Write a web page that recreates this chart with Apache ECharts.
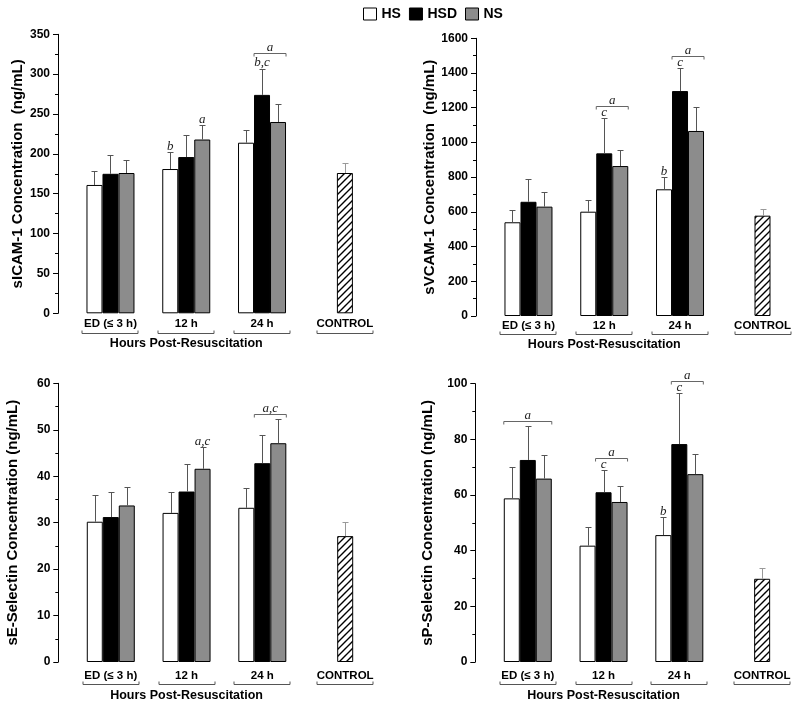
<!DOCTYPE html>
<html><head><meta charset="utf-8">
<script src="https://cdn.jsdelivr.net/npm/echarts@6/dist/echarts.min.js"></script>
<style>html,body{margin:0;padding:0;background:#fff}#c{width:800px;height:708px}</style>
</head><body><div id="c"></div>
<script>
// ---------- DATA ----------
const groups = ['ED (≤ 3 h)', '12 h', '24 h'];
const controlCat = ['CONTROL'];
const seriesNames = ['HS', 'HSD', 'NS'];
const xTitle = 'Hours Post-Resuscitation';
const yTitles = ['sICAM-1 Concentration  (ng/mL)', 'sVCAM-1 Concentration  (ng/mL)',
                 'sE-Selectin Concentration (ng/mL)', 'sP-Selectin Concentration (ng/mL)'];
const yMax = [350, 1600, 60, 100];
const yStep = [50, 200, 10, 20];

// sICAM-1
const icamHS = [161, 181, 214], icamHSD = [175, 196, 274], icamNS = [176, 218, 240];
const icamErrHS = [17, 21, 16], icamErrHSD = [23, 28, 33], icamErrNS = [16, 18, 22];
const icamCtrl = [176], icamCtrlErr = [12];
const icamLetters = [[1, 0, 'b'], [1, 2, 'a'], [2, 1, 'b,c']];
const icamBrackets = [[2, 1, 2, 'a']];

// sVCAM-1
const vcamHS = [540, 601, 730], vcamHSD = [658, 937, 1296], vcamNS = [630, 864, 1066];
const vcamErrHS = [72, 67, 72], vcamErrHSD = [129, 205, 134], vcamErrNS = [86, 94, 138];
const vcamCtrl = [578], vcamCtrlErr = [37];
const vcamLetters = [[1, 1, 'c'], [2, 0, 'b'], [2, 1, 'c']];
const vcamBrackets = [[1, 1, 2, 'a'], [2, 1, 2, 'a']];

// sE-Selectin
const eselHS = [30.2, 32.1, 33.2], eselHSD = [31.2, 36.7, 42.8], eselNS = [33.7, 41.6, 47.1];
const eselErrHS = [5.7, 4.4, 4.2], eselErrHSD = [5.5, 6.0, 6.0], eselErrNS = [4.0, 4.6, 5.3];
const eselCtrl = [27.1], eselCtrlErr = [3.1];
const eselLetters = [[1, 2, 'a,c']];
const eselBrackets = [[2, 1, 2, 'a,c']];

// sP-Selectin
const pselHS = [58.8, 41.8, 45.6], pselHSD = [72.6, 61.0, 78.3], pselNS = [65.9, 57.5, 67.5];
const pselErrHS = [11.2, 6.6, 6.6], pselErrHSD = [12.3, 8.0, 18.2], pselErrNS = [8.6, 5.8, 7.3];
const pselCtrl = [29.9], pselCtrlErr = [3.8];
const pselLetters = [[1, 1, 'c'], [2, 0, 'b'], [2, 1, 'c']];
const pselBrackets = [[0, 0, 2, 'a'], [1, 1, 2, 'a'], [2, 1, 2, 'a']];

const panelMeans = [[icamHS, icamHSD, icamNS], [vcamHS, vcamHSD, vcamNS], [eselHS, eselHSD, eselNS], [pselHS, pselHSD, pselNS]];
const panelErrs = [[icamErrHS, icamErrHSD, icamErrNS], [vcamErrHS, vcamErrHSD, vcamErrNS], [eselErrHS, eselErrHSD, eselErrNS], [pselErrHS, pselErrHSD, pselErrNS]];
const panelCtrl = [icamCtrl, vcamCtrl, eselCtrl, pselCtrl];
const panelCtrlErr = [icamCtrlErr, vcamCtrlErr, eselCtrlErr, pselCtrlErr];
const panelLetters = [icamLetters, vcamLetters, eselLetters, pselLetters];
const panelBrackets = [icamBrackets, vcamBrackets, eselBrackets, pselBrackets];

// ---------- STYLE / LAYOUT ----------
const SANS = 'Liberation Sans, Arial, sans-serif';
const SERIF = 'Liberation Serif, Times New Roman, serif';
const BAR_W = 16;
const fills = ['#ffffff', '#000000', '#8c8c8c'];
const layout = [
  {ax: 58,    top: 34.3,  bottom: 313.3, lblMargin: 5, xNameGap: 24,   brGap: 20,   yNameGap: 32.5},
  {ax: 476,   top: 38.3,  bottom: 316,   lblMargin: 4, xNameGap: 22,   brGap: 17.5, yNameGap: 37.5},
  {ax: 58.3,  top: 383.3, bottom: 662,   lblMargin: 8, xNameGap: 27,   brGap: 22,   yNameGap: 37.5},
  {ax: 475.3, top: 383.7, bottom: 662,   lblMargin: 8, xNameGap: 27,   brGap: 22,   yNameGap: 39.8}
];

function hatch() {
  const cv = document.createElement('canvas');
  const n = 7; cv.width = n; cv.height = n;
  const g = cv.getContext('2d');
  g.fillStyle = '#fff'; g.fillRect(0, 0, n, n);
  g.strokeStyle = '#000'; g.lineWidth = 1.4;
  g.beginPath();
  g.moveTo(-1, n + 1); g.lineTo(n + 1, -1);
  g.moveTo(-1, 1); g.lineTo(1, -1);
  g.moveTo(n - 1, n + 1); g.lineTo(n + 1, n - 1);
  g.stroke();
  return cv;
}
const hatchImg = hatch();

const grids = [], xAxes = [], yAxes = [], series = [];
layout.forEach((L, p) => {
  const gMain = p * 2, gCtrl = p * 2 + 1;
  grids.push({left: L.ax + 14.6, width: 227.3, top: L.top, height: L.bottom - L.top});
  grids.push({left: L.ax + 249, width: 75.8, top: L.top, height: L.bottom - L.top});
  const xl = {fontFamily: SANS, fontWeight: 'bold', fontSize: 11.5, color: '#000', margin: L.lblMargin};
  xAxes.push({type: 'category', gridIndex: gMain, data: groups, axisLine: {show: false}, axisTick: {show: false},
    axisLabel: xl, name: xTitle, nameLocation: 'middle', nameGap: L.xNameGap,
    nameTextStyle: {fontFamily: SANS, fontWeight: 'bold', fontSize: 12.5, color: '#000', verticalAlign: 'top'}});
  xAxes.push({type: 'category', gridIndex: gCtrl, data: controlCat, axisLine: {show: false}, axisTick: {show: false}, axisLabel: xl});
  yAxes.push({type: 'value', gridIndex: gMain, min: 0, max: yMax[p], interval: yStep[p], offset: 14.6,
    axisLine: {show: true, lineStyle: {color: '#000', width: 1}},
    axisTick: {show: true, length: 5, lineStyle: {color: '#000'}},
    minorTick: {show: true, splitNumber: 2, length: 3, lineStyle: {color: '#000'}},
    splitLine: {show: false},
    axisLabel: {fontFamily: SANS, fontWeight: 'bold', fontSize: 12, color: '#000', margin: 8, formatter: v => String(v)},
    name: yTitles[p], nameLocation: 'middle', nameGap: L.yNameGap, nameRotate: 90,
    nameTextStyle: {fontFamily: SANS, fontWeight: 'bold', fontSize: 15, color: '#000'}});
  yAxes.push({type: 'value', gridIndex: gCtrl, min: 0, max: yMax[p], show: false, splitLine: {show: false}});

  const xMain = gMain, yMain = gMain, xC = gCtrl, yC = gCtrl;
  const means = panelMeans[p], errs = panelErrs[p];
  seriesNames.forEach((nm, s) => {
    series.push({type: 'bar', name: nm, xAxisIndex: xMain, yAxisIndex: yMain, data: means[s],
      barWidth: BAR_W, barGap: '0%', itemStyle: {color: fills[s], borderColor: '#000', borderWidth: 1}, silent: true});
  });
  series.push({type: 'bar', name: 'CONTROL', xAxisIndex: xC, yAxisIndex: yC, data: panelCtrl[p], barWidth: BAR_W,
    itemStyle: {color: {image: hatchImg, repeat: 'repeat'}, borderColor: '#000', borderWidth: 1}, silent: true});

  // error bars
  const ebData = [];
  for (let s = 0; s < 3; s++) for (let c = 0; c < 3; c++) ebData.push([c, s, means[s][c], errs[s][c]]);
  const errRender = (color, nSeries) => (params, api) => {
    const c = api.value(0), s = api.value(1), m = api.value(2), e = api.value(3);
    const b = api.coord([c, m]), t = api.coord([c, m + e]);
    const x = Math.round(b[0] + (nSeries > 1 ? (s - 1) * BAR_W : 0)) + 0.5;
    const yb = b[1], yt = Math.round(t[1]) + 0.5;
    return {type: 'group', children: [
      {type: 'line', shape: {x1: x, y1: yb, x2: x, y2: yt}, style: {stroke: color, lineWidth: 1}},
      {type: 'line', shape: {x1: x - 3, y1: yt, x2: x + 3, y2: yt}, style: {stroke: color, lineWidth: 1}}
    ]};
  };
  series.push({type: 'custom', xAxisIndex: xMain, yAxisIndex: yMain, data: ebData, clip: false, silent: true, z: 3,
    encode: {x: 0, y: 2}, renderItem: errRender('#555', 3)});
  series.push({type: 'custom', xAxisIndex: xC, yAxisIndex: yC, data: [[0, 0, panelCtrl[p][0], panelCtrlErr[p][0]]],
    clip: false, silent: true, z: 3, encode: {x: 0, y: 2}, renderItem: errRender('#999', 1)});

  // category brackets below labels
  const catBracket = (params, api) => {
    const pt = api.coord([api.value(0), 0]);
    const x = Math.round(pt[0]), y = Math.round(pt[1] + L.brGap) + 0.5, h = 28;
    return {type: 'polyline', shape: {points: [[x - h, y - 3], [x - h, y], [x + h, y], [x + h, y - 3]]},
      style: {stroke: '#555', lineWidth: 1, fill: null}};
  };
  series.push({type: 'custom', xAxisIndex: xMain, yAxisIndex: yMain, data: [[0, 0], [1, 0], [2, 0]], clip: false, silent: true,
    encode: {x: 0, y: 1}, renderItem: catBracket});
  series.push({type: 'custom', xAxisIndex: xC, yAxisIndex: yC, data: [[0, 0]], clip: false, silent: true,
    encode: {x: 0, y: 1}, renderItem: catBracket});

  // significance letters
  const letters = panelLetters[p], brackets = panelBrackets[p];
  series.push({type: 'custom', xAxisIndex: xMain, yAxisIndex: yMain, clip: false, silent: true, z: 4,
    data: letters.map(l => [l[0], 0]), encode: {x: 0, y: 1},
    renderItem: (params, api) => {
      const l = letters[params.dataIndex];
      const c = l[0], s = l[1];
      const t = api.coord([c, means[s][c] + errs[s][c]]);
      const x = t[0] + (s - 1) * BAR_W;
      return {type: 'text', x: x, y: t[1] + 1, style: {text: l[2], textAlign: 'center', textVerticalAlign: 'bottom',
        font: 'italic 13px ' + SERIF, fill: '#222'}};
    }});
  series.push({type: 'custom', xAxisIndex: xMain, yAxisIndex: yMain, clip: false, silent: true, z: 4,
    data: brackets.map(b => [b[0], 0]), encode: {x: 0, y: 1},
    renderItem: (params, api) => {
      const b = brackets[params.dataIndex];
      const c = b[0], s0 = b[1], s1 = b[2];
      let topY = Infinity;
      for (let s = s0; s <= s1; s++) topY = Math.min(topY, api.coord([c, means[s][c] + errs[s][c]])[1]);
      const lt = letters.find(l => l[0] === c && l[1] >= s0 && l[1] <= s1);
      const gap = lt ? (/[bdfhklt]/.test(lt[2]) ? 15.5 : 12) : 5;
      const y = Math.round(topY - gap) + 0.5;
      const cx = api.coord([c, 0])[0];
      const x0 = cx + (s0 - 1) * BAR_W - BAR_W / 2, x1 = cx + (s1 - 1) * BAR_W + BAR_W / 2;
      return {type: 'group', children: [
        {type: 'polyline', shape: {points: [[x0, y + 3], [x0, y], [x1, y], [x1, y + 3]]}, style: {stroke: '#666', lineWidth: 1, fill: null}},
        {type: 'text', x: (x0 + x1) / 2, y: y + 1, style: {text: b[3], textAlign: 'center', textVerticalAlign: 'bottom',
          font: 'italic 13px ' + SERIF, fill: '#222'}}
      ]};
    }});
});

const chart = echarts.init(document.getElementById('c'), null, {renderer: 'canvas'});
chart.setOption({
  animation: false,
  backgroundColor: '#fff',
  legend: {data: seriesNames, left: 363, top: 7, padding: 0, itemWidth: 13, itemHeight: 12, itemGap: 8, icon: 'rect',
    itemStyle: {borderColor: '#000', borderWidth: 1},
    textStyle: {fontFamily: SANS, fontWeight: 'bold', fontSize: 14, color: '#000'}},
  grid: grids, xAxis: xAxes, yAxis: yAxes, series: series
});
</script></body></html>
